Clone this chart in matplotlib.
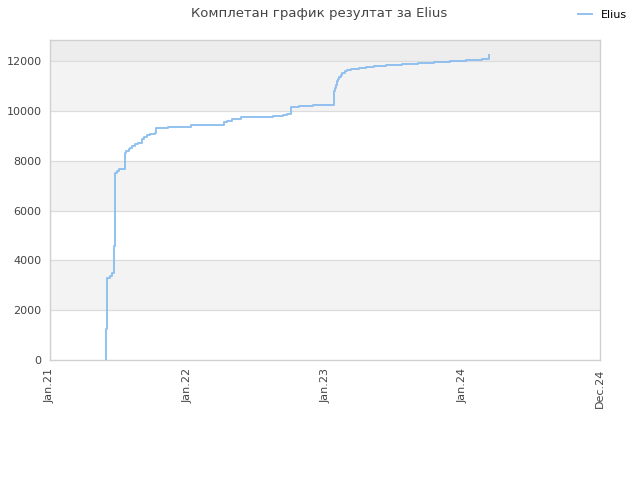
import matplotlib
matplotlib.use("Agg")
import matplotlib.pyplot as plt
import pandas as pd

# cumulative score over time
dates = [
    "2021-05-30", "2021-05-30", "2021-05-31", "2021-06-01", "2021-06-10",
    "2021-06-14", "2021-06-19", "2021-06-23", "2021-06-28", "2021-07-02",
    "2021-07-18", "2021-07-19", "2021-07-22", "2021-07-29", "2021-08-02",
    "2021-08-07", "2021-08-15", "2021-08-23", "2021-09-02", "2021-09-07",
    "2021-09-16", "2021-09-24", "2021-10-06", "2021-10-10", "2021-11-11",
    "2022-01-09", "2022-03-09", "2022-04-08", "2022-04-15", "2022-04-30",
    "2022-05-22", "2022-07-06", "2022-08-15", "2022-09-10", "2022-09-22",
    "2022-10-02", "2022-10-24", "2022-11-29", "2023-01-04", "2023-01-24",
    "2023-01-27", "2023-01-29", "2023-02-01", "2023-02-04", "2023-02-07",
    "2023-02-12", "2023-02-16", "2023-02-23", "2023-03-01", "2023-03-10",
    "2023-04-01", "2023-04-19", "2023-05-11", "2023-06-11", "2023-07-24",
    "2023-09-04", "2023-10-18", "2023-11-29", "2024-01-10", "2024-02-21",
    "2024-03-12",
]
scores = [
    0, 700, 1250, 3290, 3355,
    3490, 4560, 7520, 7600, 7650,
    7680, 8320, 8390, 8450, 8520,
    8600, 8650, 8700, 8880, 8960,
    9020, 9060, 9120, 9330, 9370,
    9415, 9450, 9540, 9610, 9690,
    9735, 9770, 9795, 9835, 9885,
    10140, 10190, 10230, 10245, 10780,
    10910, 11050, 11180, 11275, 11355,
    11450, 11517, 11584, 11650, 11680,
    11718, 11758, 11785, 11825, 11866,
    11920, 11946, 11987, 12027, 12067,
    12255,
]

tick_dates = ["2021-01-01", "2022-01-01", "2023-01-01", "2024-01-01", "2024-12-31"]
tick_labels = ["Jan.21", "Jan.22", "Jan.23", "Jan.24", "Dec.24"]
y_ticks = [0, 2000, 4000, 6000, 8000, 10000, 12000]

x = pd.to_datetime(dates)
txt = "#444444"

fig = plt.figure(figsize=(6.4, 4.8), dpi=100)
ax = fig.add_axes([0.078, 0.25, 0.86, 0.667])

ymax = 12850
# alternating background bands
for lo in range(2000, 12000, 4000):
    ax.axhspan(lo, lo + 2000, color="#f3f3f3", zorder=0, lw=0)
ax.axhspan(12000, ymax, color="#ededed", zorder=0, lw=0)
for yt in y_ticks[1:]:
    ax.axhline(yt, color="#dcdcdc", lw=0.9, zorder=1)

ax.step(x, scores, where="post", color="#86bbef", alpha=0.9, lw=1.4,
        label="Elius", zorder=3)

ax.set_xlim(pd.Timestamp(tick_dates[0]), pd.Timestamp(tick_dates[-1]))
ax.set_ylim(0, ymax)
ax.set_xticks(pd.to_datetime(tick_dates))
ax.set_xticklabels(tick_labels, rotation=90, fontsize=8, color=txt)
ax.set_yticks(y_ticks)
ax.set_yticklabels([str(v) for v in y_ticks], fontsize=8, color=txt)
ax.tick_params(length=0, pad=6)

for s in ax.spines.values():
    s.set_color("#d0d0d0")
    s.set_linewidth(1)

fig.text(0.498, 0.972, "Комплетан график резултат за Elius", ha="center",
         va="center", fontsize=9.5, color=txt)
fig.legend(loc="upper right", bbox_to_anchor=(0.995, 1.0), frameon=False,
           fontsize=8, handlelength=1.2, handletextpad=0.8)

fig.savefig("out.png", dpi=100)
